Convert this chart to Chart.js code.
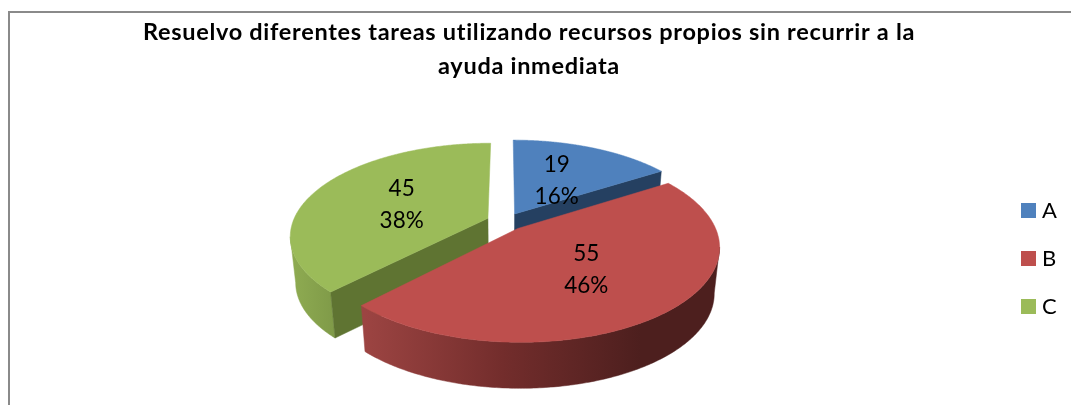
<!DOCTYPE html>
<html><head><meta charset="utf-8">
<style>html,body{margin:0;padding:0;background:#fff}#w{position:relative;width:1071px;height:405px}</style>
<script src="https://cdn.jsdelivr.net/npm/chart.js@4"></script></head>
<body><div id="w"><canvas id="c" width="1071" height="405"></canvas></div>
<script>
const categories = ['A','B','C'];
const values = [19,55,45];
const percents = ['16%','46%','38%'];
const titleLines = ['Resuelvo diferentes tareas utilizando recursos propios sin recurrir a la','ayuda inmediata'];
const topColors = ['#4F81BD','#BE4F4D','#9BBB59'];
const cutColors = ['#254061','#6E2D2B','#5F7432'];
const RX=195, RY=90, PERSP=0.184, DEPTH=46, BOTTOM_X=0.975, FONT='Lato, Carlito, sans-serif';
function project(el,a,r,cx,cy,unit){ // plane point to screen
  const mid=(el.startAngle+el.endAngle)/2, d=el.options.offset/unit;
  const u=r*Math.cos(a)+d*Math.cos(mid), v=r*Math.sin(a)+d*Math.sin(mid), w=1-PERSP*v;
  return [cx+RX*u/w, cy+RY*v/w];
}
function poly(ctx,pts,fill){ctx.beginPath();pts.forEach((p,i)=>i?ctx.lineTo(p[0],p[1]):ctx.moveTo(p[0],p[1]));ctx.closePath();ctx.fillStyle=fill;ctx.fill();ctx.strokeStyle=fill;ctx.lineWidth=.5;ctx.stroke();}
const pie3d={id:'pie3d',
  beforeDraw(chart){
    const ctx=chart.ctx;ctx.save();ctx.fillStyle='#8a8a8a';ctx.fillRect(8,11,1063,2);ctx.fillRect(8,11,2,394);ctx.restore();
    const t=chart.titleBlock,l=chart.legend;
    t.left=0;t.right=1058;
    l.left=995;l.top=167;
    if(!t._wrapped){
      t._wrapped=true;
      const td=t.draw;t.draw=function(a){ctx.letterSpacing='0.7px';td.call(this,a);ctx.letterSpacing='0px';};
      const ld=l.draw;l.draw=function(a){const f=ctx.fillText;ctx.fillText=function(s,x,y,m){return f.call(ctx,s,x-5,y,m);};ld.call(this,a);delete ctx.fillText;};
    }
  },
  beforeDatasetDraw(chart){
    const ctx=chart.ctx, els=chart.getDatasetMeta(0).data;
    ctx.save();
    [0,2,1].forEach(i=>{
      const el=els[i],unit=el.outerRadius,cx=el.x,cy=el.y,base=project(el,0,0,cx,cy,unit);
      const low=p=>[cx+(p[0]-cx)*BOTTOM_X,p[1]+DEPTH];
      const rim=[];const N=240;
      for(let k=0;k<=N;k++){const a=el.startAngle+(el.endAngle-el.startAngle)*k/N;rim.push(project(el,a,1,cx,cy,unit));}
      // outer wall: only the stretch that faces the viewer
      let run=[];const runs=[];
      for(let k=0;k<N;k++){ if(rim[k+1][0]<rim[k][0]){ if(!run.length)run.push(rim[k]); run.push(rim[k+1]); } else if(run.length){runs.push(run);run=[];} }
      if(run.length)runs.push(run);
      runs.forEach(r=>{
        let fill;
        if(i===1){fill=ctx.createLinearGradient(365,0,640,0);fill.addColorStop(0,'#9C4442');fill.addColorStop(.5,'#732D2C');fill.addColorStop(1,'#4D1F1E');}
        else if(i===2){fill=ctx.createLinearGradient(290,0,335,0);fill.addColorStop(0,'#8FAC52');fill.addColorStop(1,'#7F9A48');}
        else fill=cutColors[i];
        poly(ctx,r.concat(r.slice().reverse().map(low)),fill);
      });
      // cut face, only where the slice lies above it on screen
      [[el.startAngle,rim[0]],[el.endAngle,rim[N]]].forEach(([a,p])=>{
        const m=project(el,(el.startAngle+el.endAngle)/2,.5,cx,cy,unit);
        const dx=p[0]-base[0]; if(Math.abs(dx)<5)return;
        const yOnEdge=base[1]+(p[1]-base[1])*(m[0]-base[0])/dx;
        if(m[1]<yOnEdge) poly(ctx,[base,p,low(p),low(base)],cutColors[i]);
      });
      poly(ctx,[base].concat(rim),topColors[i]);
    });
    // value and percentage labels
    ctx.fillStyle='#000';ctx.font='22.5px '+FONT;ctx.textAlign='center';ctx.textBaseline='middle';
    els.forEach((el,i)=>{
      const p=project(el,(el.startAngle+el.endAngle)/2,.5,el.x,el.y,el.outerRadius);
      ctx.fillText(String(values[i]),p[0],p[1]-13.5);ctx.fillText(percents[i],p[0],p[1]+18.5);
    });
    ctx.restore();
    return false;
  }
};
new Chart(document.getElementById('c'),{
  type:'pie',
  data:{labels:categories,datasets:[{data:values,backgroundColor:topColors,borderWidth:0,offset:12}]},
  plugins:[pie3d],
  options:{responsive:false,animation:false,
    layout:{padding:{left:18,right:1,top:0,bottom:55}},
    plugins:{
      tooltip:{enabled:false},
      title:{display:true,text:titleLines,color:'#000',font:{family:FONT,size:23.5,weight:'bold',lineHeight:1.45},padding:{top:15,bottom:10}},
      legend:{position:'right',labels:{boxWidth:15,boxHeight:15,padding:26,color:'#000',font:{family:FONT,size:22}}}
    }
  }
});
</script></body></html>
